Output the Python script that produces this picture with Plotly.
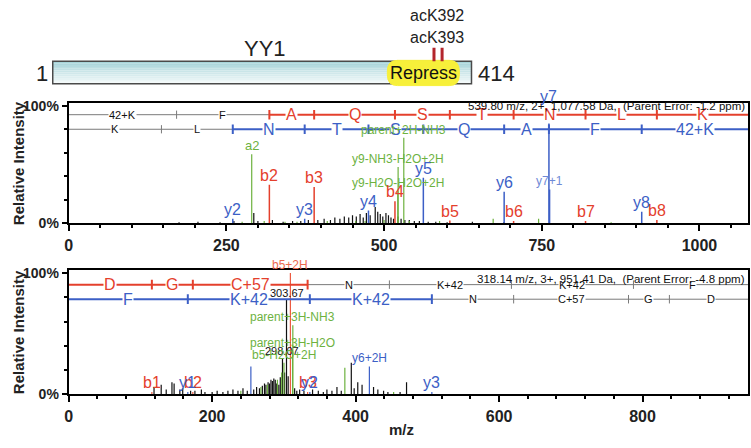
import plotly.graph_objects as go

# ---------------- data ----------------
# protein schematic (residue coordinates, as drawn)
protein_name = "YY1"
protein_length = 414
repress_label = "Repress"
repress_span = [331, 402]
site_labels = ["acK392", "acK393"]
site_marks = [377, 385]

# spectrum 1 (KacFAQSTNLK, 2+)
s1_header = "539.80 m/z, 2+, 1,077.58 Da,  (Parent Error: -1.2 ppm)"
s1_b_bounds = [0, 171.1, 318.2, 389.2, 517.3, 604.3, 705.4, 819.4, 932.5, 1078.6]
s1_b_res = ["42+K", "F", "A", "Q", "S", "T", "N", "L", "K"]
s1_b_colored = [2, 3, 4, 5, 6, 7, 8]
s1_y_bounds = [0, 147.1, 260.2, 374.2, 475.3, 562.3, 690.4, 761.4, 908.5, 1078.6]
s1_y_res = ["K", "L", "N", "T", "S", "Q", "A", "F", "42+K"]
s1_y_colored = [2, 3, 4, 5, 6, 7, 8]

s1_black_mz = [175, 205, 240, 262, 293.5, 300, 323, 340, 355, 368, 380, 395, 405, 415, 422, 430, 437,
               444, 450, 456, 462, 467, 472, 478, 486, 490, 494, 498, 503, 507, 511, 515, 522, 527,
               533, 540, 548, 556, 570, 582, 600, 640, 690]
s1_black_int = [1, 1.5, 1, 2, 9, 2, 3, 1.5, 2, 2, 3, 3, 4, 3, 5, 4, 6,
                5, 7, 6, 8, 5, 9, 7, 14, 10, 8, 6, 9, 7, 5, 4, 6, 4,
                3, 3, 2, 2, 1.5, 1.5, 1, 1.5, 1]
s1_green_mz = [275, 310, 343, 362, 410, 455, 470, 500, 540, 588, 673, 745, 860]
s1_green_int = [1.5, 2, 1.5, 1.5, 2, 2, 2, 3, 2, 2, 4, 4, 1]
s1_green_lab_mz = [290.2, 521.8, 522.3, 531.3]
s1_green_lab_int = [59, 28, 48, 73]
s1_green_lab = ["a2", "y9-H2O-H2O+2H", "y9-NH3-H2O+2H", "parent+2H-NH3"]
s1_red_mz = [318.2, 389.2, 517.3, 604.3, 705.4, 819.4, 932.5]
s1_red_int = [33, 31, 19, 2.5, 2, 2, 3]
s1_red_lab = ["b2", "b3", "b4", "b5", "b6", "b7", "b8"]
s1_blue_mz = [260.2, 374.2, 475.3, 562.3, 690.4, 762.4, 761.4, 908.5]
s1_blue_int = [4, 4, 11, 39, 27, 29, 100, 10]
s1_blue_lab = ["y2", "y3", "y4", "y5", "y6", "y7+1", "y7", "y8"]

# spectrum 2 (DGC+57NKacKacF, 3+)
s2_header = "318.14 m/z, 3+, 951.41 Da,  (Parent Error: -4.8 ppm)"
s2_b_bounds = [0, 116.0, 173.1, 333.1, 447.1, 617.2, 787.3, 952.4]
s2_b_res = ["D", "G", "C+57", "N", "K+42", "K+42", "F"]
s2_b_colored = [0, 1, 2]
s2_y_bounds = [0, 166.1, 336.2, 506.3, 620.3, 780.4, 837.4, 952.4]
s2_y_res = ["F", "K+42", "K+42", "N", "C+57", "G", "D"]
s2_y_colored = [0, 1, 2]

s2_black_mz = [119, 129, 136, 144, 147, 155, 159, 170, 176, 185, 190, 200, 207, 215, 222, 229, 236,
               243, 249, 258, 262, 266, 270, 273, 275, 278, 280, 282, 284, 286, 288, 290, 293, 295,
               301, 306, 315, 318, 322, 328, 340, 348, 355, 360, 367, 374, 380, 398, 403, 409, 425,
               431, 439, 445, 462, 471]
s2_black_int = [6, 8, 4, 10, 9, 4, 5, 3, 3, 4, 2, 2, 3, 2, 3, 4, 3,
                5, 3, 4, 6, 5, 7, 9, 8, 10, 9, 12, 11, 13, 12, 9, 8, 14,
                18, 15, 5, 3, 4, 3, 4, 3, 2, 4, 3, 6, 3, 5, 10, 8, 6,
                4, 3, 2, 2, 10]
s2_black_lab_mz = [298.07, 303.67, 394]
s2_black_lab_int = [30, 78, 26]
s2_black_lab = ["298.07", "303.67", ""]
s2_green_mz = [240, 268, 277, 291, 297, 385, 453]
s2_green_int = [3, 6, 8, 12, 18, 22, 2]
s2_green_lab_mz = [300.1, 312.1, 312.5]
s2_green_lab_int = [26, 36, 57]
s2_green_lab = ["b5-H2O+2H", "parent+3H-H2O", "parent+3H-NH3"]
s2_red_mz = [116.0, 173.1, 309.1, 333.1]
s2_red_int = [2, 2, 100, 2]
s2_red_lab = ["b1", "b2", "b5+2H", "b3"]
s2_blue_mz = [166.1, 254, 336.2, 419.2, 506.3]
s2_blue_int = [2, 23, 2, 23, 2]
s2_blue_lab = ["y1", "", "y2", "y6+2H", "y3"]

# ---------------- style ----------------
W, H = 751, 448
RED, BLUE, GREEN, BLACK, GRAY = "#e4402c", "#3c5fc6", "#6db23f", "#111111", "#7a7a7a"
FONT = "Liberation Sans, Arial, sans-serif"

def py(px):
    return 1 - px / H

fig = go.Figure()

def peaks(mz, inten, color, xa, ya, width=1.2):
    xs, ys = [], []
    for m, i in zip(mz, inten):
        xs += [m, m, None]
        ys += [0, i, None]
    fig.add_trace(go.Scatter(x=xs, y=ys, mode="lines", line=dict(color=color, width=width),
                             xaxis=xa, yaxis=ya, hoverinfo="skip", showlegend=False))

def label(x, y, text, xref, yref, size, color, **kw):
    args = dict(xanchor="center", yanchor="middle")
    args.update(kw)
    fig.add_annotation(x=x, y=y, xref=xref, yref=yref, text=text, showarrow=False, borderpad=0,
                       font=dict(family=FONT, size=size, color=color), **args)

def ladder(bounds, res, colored, level, color, xa, ya, xmax):
    gx, gy, cx, cy = [], [], [], []
    for i in range(len(res)):
        x0, x1 = bounds[i], min(bounds[i + 1], xmax)
        if i in colored:
            cx += [x0, x1, None]; cy += [level, level, None]
        else:
            gx += [x0, x1, None]; gy += [level, level, None]
    tgx, tgy, tcx, tcy = [], [], [], []
    for j in range(1, len(bounds) - 1):
        if (j - 1) in colored or j in colored:
            tcx += [bounds[j], bounds[j], None]; tcy += [level - 4, level + 4, None]
        else:
            tgx += [bounds[j], bounds[j], None]; tgy += [level - 3.5, level + 3.5, None]
    for xs, ys, c, w in [(gx, gy, GRAY, 1), (tgx, tgy, GRAY, 1), (cx, cy, color, 2), (tcx, tcy, color, 2)]:
        if xs:
            fig.add_trace(go.Scatter(x=xs, y=ys, mode="lines", line=dict(color=c, width=w),
                                     xaxis=xa, yaxis=ya, hoverinfo="skip", showlegend=False))
    for i, r in enumerate(res):
        mid = (bounds[i] + bounds[i + 1]) / 2
        if i in colored:
            label(mid, level, r, xa, ya, 16, color, bgcolor="white")
        else:
            label(mid, level, r, xa, ya, 11, BLACK, bgcolor="white")

# ---- spectrum 1 ----
peaks(s1_black_mz, s1_black_int, BLACK, "x", "y")
peaks(s1_green_mz, s1_green_int, GREEN, "x", "y")
peaks(s1_green_lab_mz, s1_green_lab_int, GREEN, "x", "y")
peaks(s1_red_mz, s1_red_int, RED, "x", "y", 1.5)
peaks(s1_blue_mz, s1_blue_int, BLUE, "x", "y", 1.5)
ladder(s1_b_bounds, s1_b_res, s1_b_colored, 92.6, RED, "x", "y", 1077)
ladder(s1_y_bounds, s1_y_res, s1_y_colored, 80.2, BLUE, "x", "y", 1077)
for m, i, t in zip(s1_green_lab_mz, s1_green_lab_int, s1_green_lab):
    label(m, i, t, "x", "y", 12 if t != "a2" else 13, GREEN, yanchor="bottom")
for m, i, t in zip(s1_red_mz, s1_red_int, s1_red_lab):
    label(m, i, t, "x", "y", 16, RED, yanchor="bottom")
for m, i, t in zip(s1_blue_mz, s1_blue_int, s1_blue_lab):
    small = t == "y7+1"
    label(m, i, t, "x", "y", 12 if small else 16, "#6f8ad6" if small else BLUE, yanchor="bottom")
label(746 / W, py(104), s1_header, "paper", "paper", 11.5, BLACK, xanchor="right")

# ---- spectrum 2 ----
peaks(s2_black_mz, s2_black_int, BLACK, "x2", "y2")
peaks(s2_black_lab_mz, s2_black_lab_int, BLACK, "x2", "y2")
peaks(s2_green_mz, s2_green_int, GREEN, "x2", "y2")
peaks(s2_green_lab_mz, s2_green_lab_int, GREEN, "x2", "y2")
peaks(s2_blue_mz, s2_blue_int, BLUE, "x2", "y2")
peaks(s2_red_mz, s2_red_int, "#ec5a40", "x2", "y2")
ladder(s2_b_bounds, s2_b_res, s2_b_colored, 90.4, RED, "x2", "y2", 947)
ladder(s2_y_bounds, s2_y_res, s2_y_colored, 78.4, BLUE, "x2", "y2", 947)
for m, i, t in zip(s2_black_lab_mz, s2_black_lab_int, s2_black_lab):
    if t:
        label(m, i, t, "x2", "y2", 11, BLACK, yanchor="bottom")
for m, i, t in zip(s2_green_lab_mz, s2_green_lab_int, s2_green_lab):
    label(m, i, t, "x2", "y2", 12, GREEN, yanchor="bottom")
for m, i, t in zip(s2_red_mz, s2_red_int, s2_red_lab):
    big = t != "b5+2H"
    label(m, i, t, "x2", "y2", 16 if big else 12, RED if big else "#ec6a50", yanchor="bottom")
for m, i, t in zip(s2_blue_mz, s2_blue_int, s2_blue_lab):
    if t:
        big = t != "y6+2H"
        label(m, i, t, "x2", "y2", 16 if big else 12, BLUE, yanchor="bottom")
label(746 / W, py(282), s2_header, "paper", "paper", 11.5, BLACK, xanchor="right")

# ---- protein schematic ----
fig.add_trace(go.Scatter(x=[1, protein_length], y=[0, 0], mode="markers", marker=dict(opacity=0),
                         xaxis="x3", yaxis="y3", hoverinfo="skip", showlegend=False))
bar_top, bar_bot = 58, 81
bands = 12
c_top, c_bot = (166, 212, 217), (244, 250, 251)
for k in range(bands):
    t = k / (bands - 1)
    c = tuple(int(c_top[n] + (c_bot[n] - c_top[n]) * t) for n in range(3))
    y0 = bar_top + (bar_bot - bar_top) * k / bands
    y1 = bar_top + (bar_bot - bar_top) * (k + 1) / bands
    fig.add_shape(type="rect", xref="x3", yref="paper", x0=1, x1=protein_length, y0=py(y0), y1=py(y1),
                  fillcolor="rgb(%d,%d,%d)" % c, line=dict(width=0))
fig.add_shape(type="rect", xref="x3", yref="paper", x0=1, x1=protein_length, y0=py(bar_top), y1=py(bar_bot),
              line=dict(color="#4a4a4a", width=1.5), fillcolor="rgba(0,0,0,0)")
# rounded yellow domain box
x0, x1 = repress_span
yt, yb = py(57), py(83)
rx, ry = 10, 11 / H
path = (f"M {x0+rx},{yt} L {x1-rx},{yt} Q {x1},{yt} {x1},{yt-ry} L {x1},{yb+ry} Q {x1},{yb} {x1-rx},{yb} "
        f"L {x0+rx},{yb} Q {x0},{yb} {x0},{yb+ry} L {x0},{yt-ry} Q {x0},{yt} {x0+rx},{yt} Z")
fig.add_shape(type="path", xref="x3", yref="paper", path=path, fillcolor="#f7f03a",
              line=dict(color="#f7f03a", width=1))
label((x0 + x1) / 2, py(70), repress_label, "x3", "paper", 18, "#111")
for m in site_marks:
    fig.add_shape(type="line", xref="x3", yref="paper", x0=m, x1=m, y0=py(44), y1=py(58),
                  line=dict(color="#b3262c", width=3))
site_center = sum(site_marks) / len(site_marks) - 1
for lab, ypx in zip(site_labels, [11, 33]):
    label(site_center, py(ypx), lab, "x3", "paper", 16, "#222")
label(210, py(45), protein_name, "x3", "paper", 22, "#222")
label(1, py(71), "1", "x3", "paper", 22, "#222", xanchor="right", xshift=-4)
label(protein_length, py(71), str(protein_length), "x3", "paper", 22, "#222", xanchor="left", xshift=6)

# ---- axis titles ----
for yc in [163, 337]:
    fig.add_annotation(x=14 / W, y=py(yc), xref="paper", yref="paper", text="Relative Intensity",
                       textangle=-90, showarrow=False, xanchor="center", yanchor="middle",
                       font=dict(family=FONT, size=15, color="#222", weight="bold"))
fig.add_annotation(x=400 / W, y=py(437), xref="paper", yref="paper", text="m/z", showarrow=False,
                   xanchor="center", yanchor="middle",
                   font=dict(family=FONT, size=15, color="#222", weight="bold"))

# ---- layout ----
xdom = [65 / W, 748 / W]
common_x = dict(showgrid=False, zeroline=False, showline=True, mirror=True, linecolor="black",
                linewidth=2, ticks="outside", ticklen=6, tickwidth=1.5, tickcolor="black",
                tickfont=dict(family=FONT, size=16, color="#222", weight="bold"))
common_y = dict(showgrid=False, zeroline=False, showline=True, mirror=True, linecolor="black",
                linewidth=2, ticks="outside", ticklen=5, tickwidth=1.5, tickcolor="black",
                tickvals=[0, 100], ticktext=["0%", "100%"],
                minor=dict(dtick=20, ticklen=3, tickcolor="black", ticks="outside"),
                tickfont=dict(family=FONT, size=14, color="#222", weight="bold"))
fig.update_layout(
    width=W, height=H, autosize=False, margin=dict(l=0, r=0, t=0, b=0),
    plot_bgcolor="white", paper_bgcolor="white", showlegend=False,
    xaxis=dict(domain=xdom, range=[0, 1077], anchor="y", dtick=250, tick0=0,
               minor=dict(dtick=50, ticklen=3, tickcolor="black", ticks="outside"), **common_x),
    yaxis=dict(domain=[py(225), py(101)], range=[0, 102.5], anchor="x", **common_y),
    xaxis2=dict(domain=xdom, range=[0, 947], anchor="y2", dtick=200, tick0=0,
                minor=dict(dtick=40, ticklen=3, tickcolor="black", ticks="outside"), **common_x),
    yaxis2=dict(domain=[py(401), py(273)], range=[0, 102.4], anchor="x2", **common_y),
    xaxis3=dict(domain=[43.9 / W, 475.1 / W], range=[-4, 419], anchor="y3", visible=False),
    yaxis3=dict(domain=[py(90), py(0)], range=[0, 1], anchor="x3", visible=False),
)

fig.write_html("out.html", config={"displayModeBar": False},
               post_script="document.body.style.margin='0';")
